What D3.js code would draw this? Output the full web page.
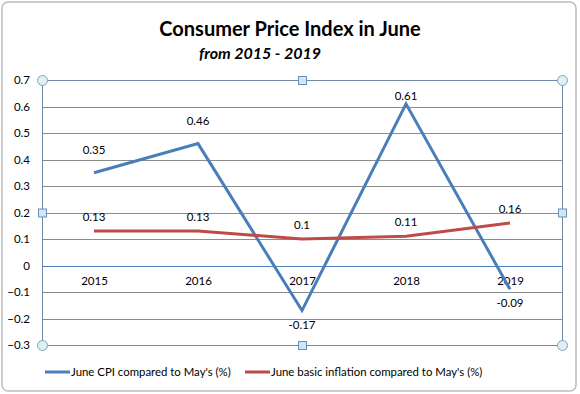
<!DOCTYPE html>
<html>
<head>
<meta charset="utf-8">
<script src="https://cdn.jsdelivr.net/npm/d3@7/dist/d3.min.js"></script>
<style>
  body { margin: 0; background: #fff; }
  svg text { font-family: Lato, "Open Sans", sans-serif; fill: #000; }
</style>
</head>
<body>
<svg id="chart" width="580" height="394"></svg>
<script>
// Chart data
const years = ['2015', '2016', '2017', '2018', '2019']
const cpiValues = [0.35, 0.46, -0.17, 0.61, -0.09]
const basicValues = [0.13, 0.13, 0.1, 0.11, 0.16]
const yTicks = [-0.3, -0.2, -0.1, 0, 0.1, 0.2, 0.3, 0.4, 0.5, 0.6, 0.7]
const seriesNames = ["June CPI compared to May's (%)", "June basic inflation compared to May's (%)"]
const seriesColors = ['#4a7ebb', '#be4b48']

const svg = d3.select('#chart')
const plot = { left: 42, right: 562, top: 80, bottom: 345 }

// outer chart frame
svg.append('rect')
  .attr('x', 2).attr('y', 2).attr('width', 574).attr('height', 389)
  .attr('rx', 6)
  .attr('fill', '#fff')
  .attr('stroke', '#bdbdbd')
  .attr('stroke-width', 1.5)

// titles
svg.append('text')
  .attr('x', 290).attr('y', 36)
  .attr('text-anchor', 'middle')
  .attr('font-size', 20).attr('font-weight', 'bold')
  .text('Consumer Price Index in June')
svg.append('text')
  .attr('x', 260).attr('y', 59)
  .attr('text-anchor', 'middle')
  .attr('font-size', 16).attr('font-weight', 'bold').attr('font-style', 'italic')
  .text('from 2015 - 2019')

const x = d3.scalePoint()
  .domain(years)
  .range([plot.left, plot.right])
  .padding(0.5)

const y = d3.scaleLinear()
  .domain([-0.3, 0.7])
  .range([plot.bottom, plot.top])

// horizontal gridlines
svg.append('g')
  .selectAll('line')
  .data(yTicks)
  .join('line')
  .attr('x1', plot.left).attr('x2', plot.right)
  .attr('y1', d => Math.round(y(d)) + 0.5).attr('y2', d => Math.round(y(d)) + 0.5)
  .attr('stroke', d => d === 0 ? '#4f81bd' : '#8c8c8c')
  .attr('stroke-width', 1)

// y axis labels
const yAxis = d3.axisLeft(y)
  .tickValues(yTicks)
  .tickSize(0)
  .tickPadding(0)
  .tickFormat(d => d === 0 ? '0' : d3.format('.1f')(d))
const yG = svg.append('g')
  .attr('transform', `translate(${plot.left - 12},0)`)
  .call(yAxis)
yG.select('.domain').remove()
yG.selectAll('text')
  .attr('font-size', 11.5)
  .attr('font-family', 'Lato, sans-serif')
  .attr('fill', '#000')

// category labels sit below the zero line
const xAxis = d3.axisBottom(x).tickSize(0).tickPadding(11)
const xG = svg.append('g')
  .attr('transform', `translate(0,${y(0)})`)
  .call(xAxis)
xG.select('.domain').remove()
xG.selectAll('text')
  .attr('font-size', 11.5)
  .attr('font-family', 'Lato, sans-serif')
  .attr('fill', '#000')

// plot area frame (selected look)
svg.append('rect')
  .attr('x', plot.left + 0.5).attr('y', plot.top + 0.5)
  .attr('width', plot.right - plot.left).attr('height', plot.bottom - plot.top)
  .attr('fill', 'none')
  .attr('stroke', '#6f8aa6')
  .attr('stroke-width', 1)

const line = d3.line()
  .x((d, i) => x(years[i]))
  .y(d => y(d))

const allSeries = [cpiValues, basicValues]

svg.append('g')
  .selectAll('path')
  .data(allSeries)
  .join('path')
  .attr('d', d => line(d))
  .attr('fill', 'none')
  .attr('stroke', (d, i) => seriesColors[i])
  .attr('stroke-width', 3)
  .attr('stroke-linejoin', 'miter')

// data labels
allSeries.forEach((vals, s) => {
  svg.append('g')
    .selectAll('text')
    .data(vals)
    .join('text')
    .attr('x', (d, i) => x(years[i]))
    .attr('y', d => {
      if (d < 0) return y(d) + 18
      const off = s === 0 ? 19 : 10
      return Math.max(y(d) - off, plot.top + 20)
    })
    .attr('text-anchor', 'middle')
    .attr('font-size', 11.5)
    .text(d => d)
})

// selection handles on the plot area
const corners = [[plot.left, plot.top], [plot.right, plot.top], [plot.left, plot.bottom], [plot.right, plot.bottom]]
const mids = [[(plot.left + plot.right) / 2, plot.top], [(plot.left + plot.right) / 2, plot.bottom],
  [plot.left, (plot.top + plot.bottom) / 2], [plot.right, (plot.top + plot.bottom) / 2]]

svg.append('g')
  .selectAll('circle')
  .data(corners)
  .join('circle')
  .attr('cx', d => d[0] + 0.5).attr('cy', d => d[1] + 0.5)
  .attr('r', 5)
  .attr('fill', '#dcf0f5')
  .attr('stroke', '#8ca0b4')
  .attr('stroke-width', 1)

svg.append('g')
  .selectAll('rect')
  .data(mids)
  .join('rect')
  .attr('x', d => d[0] - 3.5).attr('y', d => d[1] - 3.5)
  .attr('width', 8).attr('height', 8)
  .attr('fill', '#cfe7f5')
  .attr('stroke', '#6f90b4')
  .attr('stroke-width', 1)

// legend
const legendX = [45, 245]
const legend = svg.append('g')
  .selectAll('g')
  .data(seriesNames)
  .join('g')
  .attr('transform', (d, i) => `translate(${legendX[i]},372)`)
legend.append('line')
  .attr('x1', 0).attr('x2', 25)
  .attr('stroke', (d, i) => seriesColors[i])
  .attr('stroke-width', 3)
legend.append('text')
  .attr('x', 26).attr('y', 4)
  .attr('font-size', 11.4)
  .text(d => d)
</script>
</body>
</html>
